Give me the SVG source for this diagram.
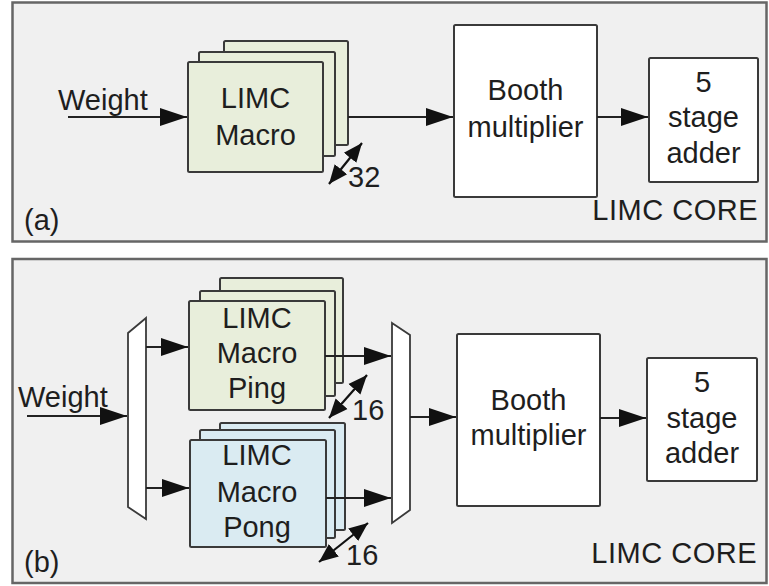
<svg xmlns="http://www.w3.org/2000/svg" width="769" height="586" viewBox="0 0 769 586">
  <defs>
    <marker id="arrow" markerUnits="userSpaceOnUse" markerWidth="28" markerHeight="20" viewBox="0 0 28 20" refX="27" refY="10" orient="auto">
      <path d="M0,1 L27,10 L0,19 Z" fill="#111"/>
    </marker>
    <marker id="tip" markerUnits="userSpaceOnUse" markerWidth="20" markerHeight="20" viewBox="0 0 20 20" refX="19" refY="10" orient="auto-start-reverse">
      <path d="M0,2 L19,10 L0,18 Z" fill="#111"/>
    </marker>
  </defs>
  <style>
    .panel { fill: #f0f0f0; stroke: #666; stroke-width: 2.5; }
    .box { fill: #ffffff; stroke: #3a3a3a; stroke-width: 2; }
    .ping { fill: #e8eedb; stroke: #3a3a3a; stroke-width: 2; }
    .pong { fill: #daebf2; stroke: #3a3a3a; stroke-width: 2; }
    .mux { fill: #ffffff; stroke: #3a3a3a; stroke-width: 1.8; }
    .wire { fill: none; stroke: #222; stroke-width: 2; }
    .bus { fill: none; stroke: #111; stroke-width: 2.2; }
    text { font-family: "Liberation Sans", Arial, sans-serif; font-size: 29px; fill: #1e1e1e; }
    .c { text-anchor: middle; }
    .e { text-anchor: end; }
  </style>

  <rect width="769" height="586" fill="#ffffff"/>

  <!-- (a) single-macro core -->
  <g id="panel-a">
    <rect class="panel" x="12.5" y="2.5" width="754" height="239"/>
    <text x="24" y="230">(a)</text>
    <text class="e" x="758" y="220" letter-spacing="0.5">LIMC CORE</text>
  </g>

  <g id="macro-a">
    <rect class="ping" x="224" y="41" width="124" height="104" rx="1.5"/>
    <rect class="ping" x="199" y="52" width="136" height="104" rx="1.5"/>
    <rect class="ping" x="188" y="62" width="135" height="110" rx="1.5"/>
    <text class="c" x="255.5" y="108">LIMC</text>
    <text class="c" x="255.5" y="145">Macro</text>
  </g>

  <g id="booth-a">
    <rect class="box" x="454" y="25" width="143" height="172" rx="1.5"/>
    <text class="c" x="525.5" y="100">Booth</text>
    <text class="c" x="525.5" y="137">multiplier</text>
  </g>

  <g id="adder-a">
    <rect class="box" x="649" y="58" width="109" height="124" rx="1.5"/>
    <text class="c" x="703.5" y="92">5</text>
    <text class="c" x="703.5" y="127">stage</text>
    <text class="c" x="703.5" y="163">adder</text>
  </g>

  <g id="weight-a">
    <text x="58" y="110">Weight</text>
  </g>

  <g id="width-a">
    <text x="348" y="187">32</text>
  </g>

  <!-- (b) ping-pong core -->
  <g id="panel-b">
    <rect class="panel" x="12.5" y="259" width="754" height="324"/>
    <text x="24" y="572">(b)</text>
    <text class="e" x="757" y="563" letter-spacing="0.5">LIMC CORE</text>
  </g>

  <g id="demux-b">
    <path class="mux" d="M128,333 L146,318 L146,519 L128,507 Z"/>
  </g>

  <g id="macro-ping">
    <rect class="ping" x="220" y="278" width="123" height="105" rx="1.5"/>
    <rect class="ping" x="200" y="291" width="135" height="105" rx="1.5"/>
    <rect class="ping" x="189" y="301" width="136" height="109" rx="1.5"/>
    <text class="c" x="257" y="328">LIMC</text>
    <text class="c" x="257" y="363">Macro</text>
    <text class="c" x="257" y="398">Ping</text>
  </g>

  <g id="macro-pong">
    <rect class="pong" x="220" y="423" width="125" height="107" rx="1.5"/>
    <rect class="pong" x="200" y="430" width="135" height="108" rx="1.5"/>
    <rect class="pong" x="190" y="440" width="136" height="107" rx="1.5"/>
    <text class="c" x="257" y="465">LIMC</text>
    <text class="c" x="257" y="502">Macro</text>
    <text class="c" x="257" y="537">Pong</text>
  </g>

  <g id="mux-b">
    <path class="mux" d="M392,323 L410,335 L410,510 L392,523 Z"/>
  </g>

  <g id="booth-b">
    <rect class="box" x="457" y="334" width="143" height="172" rx="1.5"/>
    <text class="c" x="528.5" y="410">Booth</text>
    <text class="c" x="528.5" y="445">multiplier</text>
  </g>

  <g id="adder-b">
    <rect class="box" x="647" y="358" width="110" height="123" rx="1.5"/>
    <text class="c" x="702" y="392">5</text>
    <text class="c" x="702" y="428">stage</text>
    <text class="c" x="702" y="463">adder</text>
  </g>

  <g id="weight-b">
    <text x="18" y="407">Weight</text>
  </g>

  <g id="width-b">
    <text x="352" y="420">16</text>
    <text x="346" y="565">16</text>
  </g>

  <!-- connectors -->
  <g id="connectors">
    <line class="wire" x1="68" y1="117" x2="187" y2="117" marker-end="url(#arrow)"/>
    <line class="wire" x1="348" y1="117" x2="453" y2="117" marker-end="url(#arrow)"/>
    <line class="wire" x1="597" y1="117" x2="648" y2="117" marker-end="url(#arrow)"/>
    <line class="bus" x1="329" y1="184" x2="362" y2="143" marker-start="url(#tip)" marker-end="url(#tip)"/>

    <line class="wire" x1="27" y1="416" x2="127" y2="416" marker-end="url(#arrow)"/>
    <line class="wire" x1="146" y1="347" x2="188" y2="347" marker-end="url(#arrow)"/>
    <line class="wire" x1="146" y1="488" x2="189" y2="488" marker-end="url(#arrow)"/>
    <line class="wire" x1="325" y1="356" x2="391" y2="356" marker-end="url(#arrow)"/>
    <line class="wire" x1="326" y1="498" x2="391" y2="498" marker-end="url(#arrow)"/>
    <line class="bus" x1="329" y1="418" x2="367" y2="375" marker-start="url(#tip)" marker-end="url(#tip)"/>
    <line class="bus" x1="319" y1="562" x2="368" y2="523" marker-start="url(#tip)" marker-end="url(#tip)"/>
    <line class="wire" x1="410" y1="417" x2="456" y2="417" marker-end="url(#arrow)"/>
    <line class="wire" x1="600" y1="418" x2="646" y2="418" marker-end="url(#arrow)"/>
  </g>
</svg>
